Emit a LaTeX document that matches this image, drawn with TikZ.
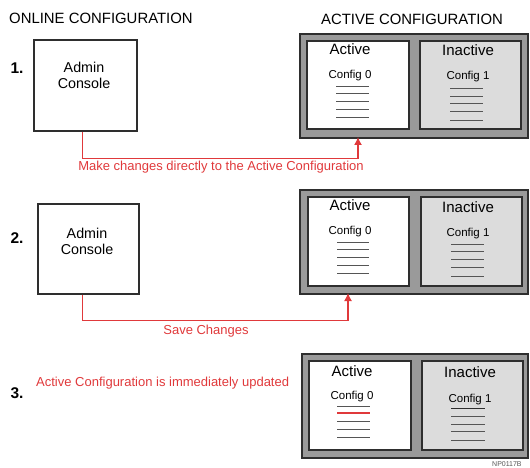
\documentclass[tikz,border=0pt]{standalone}
\usepackage{fontspec}
\setmainfont{Liberation Sans}
\usepackage{xcolor}
\usetikzlibrary{arrows.meta}

\definecolor{edge}{HTML}{2E2E2E}
\definecolor{frame}{HTML}{9A9A9A}
\definecolor{idle}{HTML}{DCDCDC}
\definecolor{note}{HTML}{E0393B}
\definecolor{rule}{HTML}{555555}

\begin{document}
\begin{tikzpicture}[x=1pt,y=-1pt]
	\tikzstyle{every node}+=[inner sep=0pt]
	\tikzstyle{head}=[font=\fontsize{14.9}{16}\selectfont]
	\tikzstyle{step num}=[font=\fontsize{15.5}{17}\selectfont\bfseries]
	\tikzstyle{console}=[draw=edge, line width=1.6pt, anchor=north west]
	\tikzstyle{console txt}=[align=center, font=\fontsize{14.3}{16}\selectfont]
	\tikzstyle{holder}=[draw=edge, fill=frame, line width=1.8pt, anchor=north west]
	\tikzstyle{cfgbox}=[draw=edge, fill=white, line width=1.6pt, anchor=north west, minimum height=88pt]
	\tikzstyle{title}=[font=\fontsize{15}{17}\selectfont]
	\tikzstyle{cfgname}=[font=\fontsize{11.5}{13}\selectfont]
	\tikzstyle{entry}=[draw=rule, line width=0.8pt]
	\tikzstyle{hot}=[draw=note, line width=1.8pt]
	\tikzstyle{link}=[draw=note, line width=1.3pt, -{Latex[length=8pt,width=8pt]}]
	\tikzstyle{remark}=[text=note, font=\fontsize{13}{15}\selectfont]
	\useasboundingbox (0,0) rectangle (530,468);

	% column titles
	\node[head, anchor=west] (online) at (9,18) {ONLINE CONFIGURATION};
	\node[head] (actcfg) at (412,19) {ACTIVE CONFIGURATION};

	% step 1
	\node[step num] (n1) at (17,68) {1.};
	\node[console, minimum width=103pt, minimum height=91pt] (admin1) at (33,39) {};
	\node[console txt] (admintxt1) at (84,75) {Admin\\Console};
	\node[holder, minimum width=228pt, minimum height=104pt] (outer1) at (299,33) {};
	\node[cfgbox, minimum width=102pt] (act1) at (306,40) {};
	\node[cfgbox, fill=idle, minimum width=101pt] (inact1) at (419,40) {};
	\node[title] (acttl1) at (350,49) {Active};
	\node[cfgname] (cfg01) at (350,76) {Config 0};
	\draw[entry] (336,86) -- (369,86);
	\draw[entry] (336,93) -- (369,93);
	\draw[entry] (336,101) -- (369,101);
	\draw[entry] (336,109) -- (369,109);
	\draw[entry] (336,117) -- (369,117);
	\node[title] (inacttl1) at (468,50) {Inactive};
	\node[cfgname] (cfg11) at (468,77) {Config 1};
	\draw[entry] (450,88) -- (483,88);
	\draw[entry] (450,96) -- (483,96);
	\draw[entry] (450,103) -- (483,103);
	\draw[entry] (450,111) -- (483,111);
	\draw[entry] (450,120) -- (483,120);
	\coordinate (in1) at (358,137);
	\draw[link] ([xshift=-3pt]admin1.south) -- ++(0,27) -| (in1);
	\node[remark] (msg1) at (221,167.5) {Make changes directly to the Active Configuration};

	% step 2
	\node[step num] (n2) at (17,238) {2.};
	\node[console, minimum width=101pt, minimum height=90pt] (admin2) at (37,203) {};
	\node[console txt] (admintxt2) at (87,241) {Admin\\Console};
	\node[holder, minimum width=228pt, minimum height=104pt] (outer2) at (299,189) {};
	\node[cfgbox, minimum width=101pt, minimum height=89pt] (act2) at (307,196) {};
	\node[cfgbox, fill=idle, minimum width=101pt, minimum height=89pt] (inact2) at (420,196) {};
	\node[title] (acttl2) at (350,205) {Active};
	\node[cfgname] (cfg02) at (350,232) {Config 0};
	\draw[entry] (337,242) -- (369,242);
	\draw[entry] (337,249) -- (369,249);
	\draw[entry] (337,257) -- (369,257);
	\draw[entry] (337,265) -- (369,265);
	\draw[entry] (337,273) -- (369,273);
	\node[title] (inacttl2) at (468,207) {Inactive};
	\node[cfgname] (cfg12) at (468,234) {Config 1};
	\draw[entry] (451,244) -- (484,244);
	\draw[entry] (451,251) -- (484,251);
	\draw[entry] (451,259) -- (484,259);
	\draw[entry] (451,267) -- (484,267);
	\draw[entry] (451,276) -- (484,276);
	\coordinate (in2) at (348,293);
	\draw[link] ([xshift=-6pt]admin2.south) -- ++(0,26) -| (in2);
	\node[remark] (msg2) at (206,331) {Save Changes};

	% step 3
	\node[step num] (n3) at (17,393) {3.};
	\node[remark, anchor=west] (msg3) at (36,383) {Active Configuration is immediately updated};
	\node[holder, minimum width=226pt, minimum height=104pt] (outer3) at (301,353) {};
	\node[cfgbox, minimum width=102pt, minimum height=89pt] (act3) at (308,360) {};
	\node[cfgbox, fill=idle, minimum width=101pt, minimum height=89pt] (inact3) at (421,360) {};
	\node[title] (acttl3) at (352,371) {Active};
	\node[cfgname] (cfg03) at (352,397) {Config 0};
	\draw[entry] (337,406) -- (370,406);
	\draw[hot] (337,413) -- (370,413);
	\draw[entry] (337,421) -- (370,421);
	\draw[entry] (337,429) -- (370,429);
	\draw[entry] (337,437) -- (370,437);
	\node[title] (inacttl3) at (470,372) {Inactive};
	\node[cfgname] (cfg13) at (470,400) {Config 1};
	\draw[entry, draw=edge] (451,408) -- (485,408);
	\draw[entry] (451,416) -- (485,416);
	\draw[entry] (451,424) -- (485,424);
	\draw[entry] (451,431) -- (485,431);
	\draw[entry] (451,440) -- (485,440);

	\node[text=rule, font=\fontsize{7}{8}\selectfont, anchor=west] (code) at (492,464) {NP0117B};
\end{tikzpicture}
\end{document}
